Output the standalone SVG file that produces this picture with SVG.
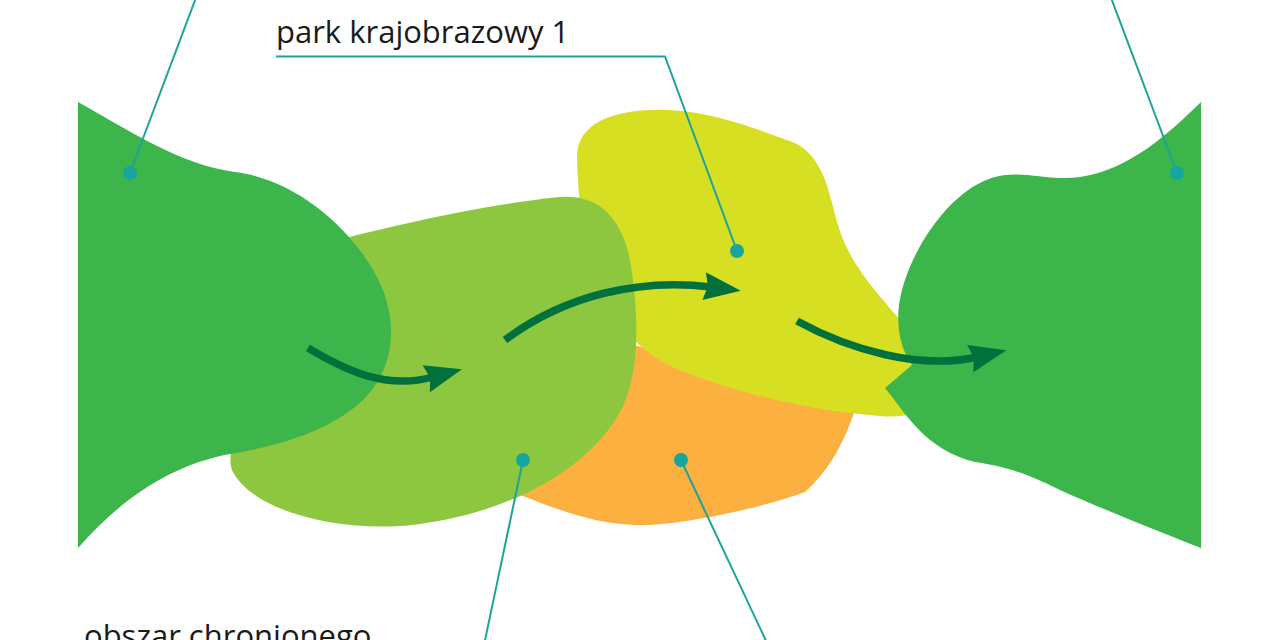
<svg xmlns="http://www.w3.org/2000/svg" width="1280" height="640" viewBox="0 0 1280 640">
<style>
.dg{fill:#3cb54a}
.lg{fill:#8dc63f}
.ye{fill:#d7df23}
.or{fill:#fbb040}
.flow{fill:none;stroke:#00703c;stroke-width:7.5;marker-end:url(#ah)}
.lead{fill:none;stroke:#1ba39c;stroke-width:2}
.dot{fill:#17a5a0}
.lbl{font-family:"Open Sans","Noto Sans","Liberation Sans",sans-serif;font-size:31px;fill:#1a1a1a}
</style>
<defs>
<marker id="ah" markerUnits="userSpaceOnUse" markerWidth="44" markerHeight="34" refX="7" refY="0" viewBox="0 -17 44 34" orient="auto" overflow="visible">
<path d="M0,-14 L37,0 L0,14 L4,0 Z" fill="#00703c"/>
</marker>
</defs>
<rect width="1280" height="640" fill="#ffffff"/>
<g id="orange-area">
<path class="or" d="M560,330 C600,340 640,345 700,360 C760,380 820,395 855,410 C845,440 830,470 805,492 C770,505 700,522 650,525 C600,527 560,510 520,495 C500,450 520,360 560,330 Z"/>
</g>
<g id="park-krajobrazowy-1">
<path class="ye" d="M577,160 C575,120 620,108 670,110 C712,112 755,128 795,143 C826,158 830,200 838,225 C848,260 870,285 900,320 L935,400 C920,415 900,418 880,416 C820,412 740,395 680,370 C650,358 630,340 600,300 C585,260 578,200 577,160 Z"/>
</g>
<g id="obszar-chronionego">
<path class="lg" d="M300,250 C380,228 480,205 560,197 C600,194 622,220 630,260 C638,310 642,370 620,412 C590,465 520,510 420,524 C340,535 250,510 232,470 C225,450 240,400 300,250 Z"/>
</g>
<g id="left-area">
<path class="dg" d="M78,102 C125,128 180,165 235,172 C300,180 360,235 383,290 C398,330 392,370 365,398 C335,428 285,445 230,454 C170,465 120,500 78,548 Z"/>
</g>
<g id="right-area">
<path class="dg" d="M1201,102 C1170,132 1130,170 1080,177 C1050,181 1030,172 1005,175 C960,180 920,235 905,280 C893,315 898,345 912,365 L885,388 C905,412 925,450 975,462 C1000,466 1020,470 1060,490 C1100,508 1150,528 1201,548 Z"/>
</g>
<g id="connectors">
<path class="flow" d="M308,348 C345,370 385,390 433,377"/>
<path class="flow" d="M505,340 C565,295 640,278 711,287"/>
<path class="flow" d="M797,321 C850,350 920,370 977,357"/>
<polyline class="lead" points="276,56.5 665,56.5 737,251"/>
<line class="lead" x1="130" y1="173" x2="197" y2="-5"/>
<line class="lead" x1="1177" y1="173" x2="1110" y2="-5"/>
<line class="lead" x1="523" y1="460" x2="484" y2="645"/>
<line class="lead" x1="681" y1="460" x2="768" y2="645"/>
<circle class="dot" cx="737" cy="251" r="7"/>
<circle class="dot" cx="130" cy="173" r="7"/>
<circle class="dot" cx="1177" cy="173" r="7"/>
<circle class="dot" cx="523" cy="460" r="7"/>
<circle class="dot" cx="681" cy="460" r="7"/>
</g>
<g id="labels">
<text class="lbl" x="276" y="43">park krajobrazowy 1</text>
<text class="lbl" x="84" y="647">obszar chronionego</text>
</g>
</svg>
